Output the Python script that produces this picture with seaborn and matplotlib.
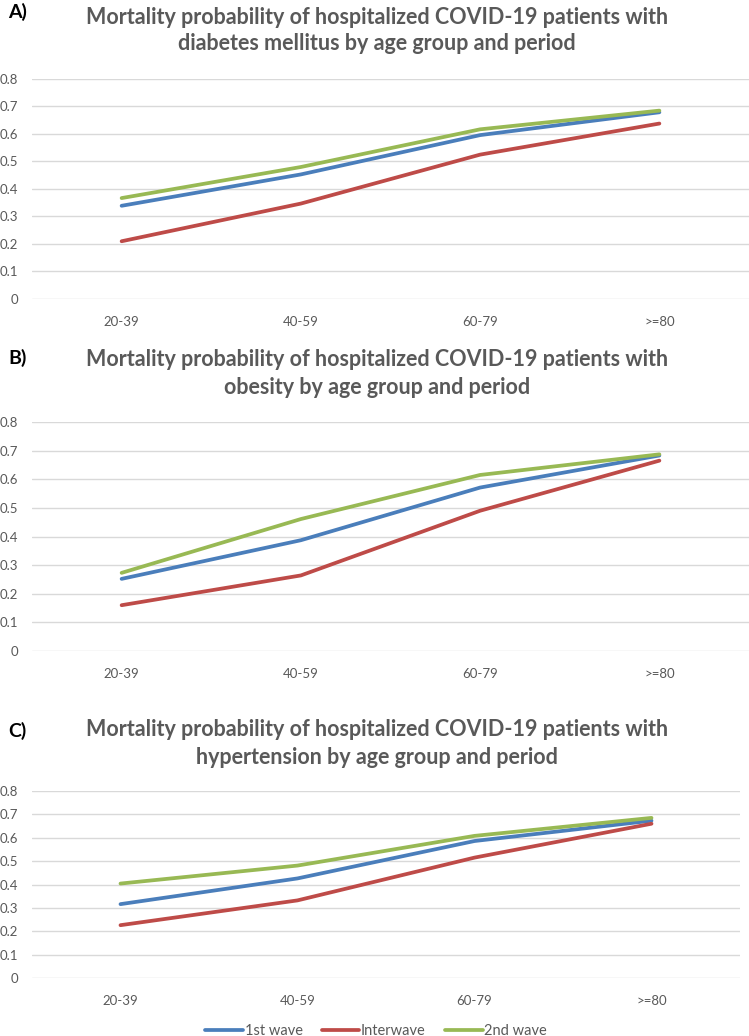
import matplotlib
matplotlib.use("Agg")
import matplotlib.pyplot as plt
import seaborn as sns
import pandas as pd
from matplotlib.lines import Line2D

age_groups = ["20-39", "40-59", "60-79", ">=80"]
periods = ["1st wave", "Interwave", "2nd wave"]

diabetes_1st = [0.339, 0.453, 0.596, 0.679]
diabetes_inter = [0.210, 0.347, 0.525, 0.638]
diabetes_2nd = [0.367, 0.480, 0.617, 0.685]

obesity_1st = [0.252, 0.387, 0.571, 0.683]
obesity_inter = [0.160, 0.264, 0.490, 0.665]
obesity_2nd = [0.273, 0.461, 0.615, 0.687]

hyper_1st = [0.316, 0.426, 0.586, 0.673]
hyper_inter = [0.226, 0.332, 0.515, 0.660]
hyper_2nd = [0.404, 0.481, 0.608, 0.685]

titles = [
    ("A)", "Mortality probability of hospitalized COVID-19 patients with",
     "diabetes mellitus by age group and period"),
    ("B)", "Mortality probability of hospitalized COVID-19 patients with",
     "obesity by age group and period"),
    ("C)", "Mortality probability of hospitalized COVID-19 patients with",
     "hypertension by age group and period"),
]
yticks = [0, 0.1, 0.2, 0.3, 0.4, 0.5, 0.6, 0.7, 0.8]
ytick_labels = ["0", "0.1", "0.2", "0.3", "0.4", "0.5", "0.6", "0.7", "0.8"]

colors = ["#4A7EBB", "#BE4B48", "#98B954"]

sns.set_style("white")
plt.rcParams["font.family"] = ["Lato", "DejaVu Sans"]

W, H = 749, 1036
fig = plt.figure(figsize=(W / 100, H / 100), dpi=100)


def make_df(a, b, c):
    rows = []
    for p, vals in zip(periods, [a, b, c]):
        for g, v in zip(age_groups, vals):
            rows.append({"age": g, "period": p, "prob": v})
    return pd.DataFrame(rows)


panels = [
    (make_df(diabetes_1st, diabetes_inter, diabetes_2nd), (32, 79, 749, 299), (12, 17, 44)),
    (make_df(obesity_1st, obesity_inter, obesity_2nd), (32, 422, 749, 651), (358, 360, 388)),
    (make_df(hyper_1st, hyper_inter, hyper_2nd), (32, 791, 740, 978), (731, 729, 757)),
]

gray = "#595959"
for (df, (x0, y0, x1, y1), (ly, t1, t2)), (lab, l1, l2) in zip(panels, titles):
    ax = fig.add_axes([x0 / W, 1 - y1 / H, (x1 - x0) / W, (y1 - y0) / H])
    sns.lineplot(data=df, x="age", y="prob", hue="period", hue_order=periods,
                 palette=colors, linewidth=2.7, ax=ax, legend=False, sort=False)
    ax.set_xlim(-0.5, 3.5)
    ax.set_ylim(0, 0.8)
    ax.set_yticks(yticks)
    ax.set_yticklabels(ytick_labels)
    ax.set_xlabel("")
    ax.set_ylabel("")
    for s in ax.spines.values():
        s.set_visible(False)
    ax.grid(axis="y", color="#D9D9D9", linewidth=1.0)
    ax.set_axisbelow(True)
    ax.tick_params(axis="both", length=0, labelsize=9.5, colors=gray)
    ax.tick_params(axis="x", pad=12)
    ax.tick_params(axis="y", pad=10)
    for line in ax.get_lines():
        line.set_clip_on(False)
    fig.text(8 / W, 1 - ly / H, lab, fontsize=14, fontweight="bold", color="black",
             ha="left", va="center")
    fig.text(377 / W, 1 - t1 / H, l1, fontsize=15.5, fontweight="bold", color=gray,
             ha="center", va="center")
    fig.text(377 / W, 1 - t2 / H, l2, fontsize=15.5, fontweight="bold", color=gray,
             ha="center", va="center")

handles = [Line2D([0], [0], color=c, linewidth=2.7) for c in colors]
fig.legend(handles, periods, loc="center", bbox_to_anchor=(376 / W, 1 - 1031 / H),
           ncol=3, frameon=False, fontsize=10.5, handlelength=2.6, handletextpad=0.1,
           columnspacing=1.3, labelcolor=gray)

fig.savefig("out.png", dpi=100, facecolor="white")
